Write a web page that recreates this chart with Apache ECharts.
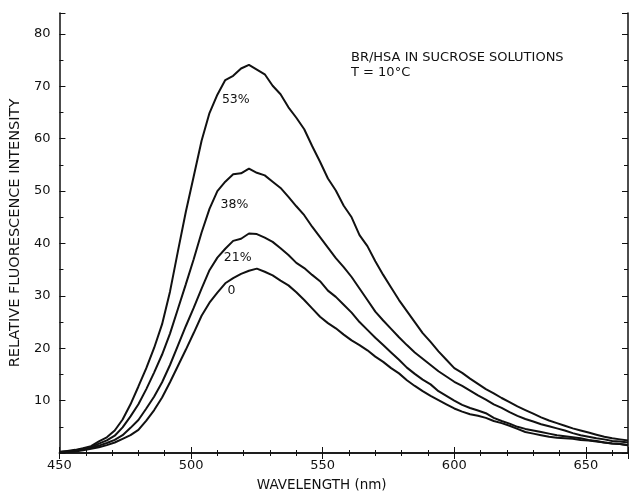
<!DOCTYPE html>
<html>
<head>
<meta charset="utf-8">
<script src="https://cdn.jsdelivr.net/npm/echarts@6/dist/echarts.min.js"></script>
<style>
  html, body { margin: 0; padding: 0; background: #fff; }
  #chart { width: 629px; height: 497px; }
</style>
</head>
<body>
<div id="chart"></div>
<script>
// wavelength grid (nm), shared by all four spectra
const wavelengths = [
  450, 453, 456, 459, 462, 465, 468, 471, 474, 477, 480, 483, 486, 489, 492, 495, 498,
  501, 504, 507, 510, 513, 516, 519, 522, 525, 528, 531, 534, 537, 540, 543, 546, 549,
  552, 555, 558, 561, 564, 567, 570, 573, 576, 579, 582, 585, 588, 591, 594, 597, 600,
  603, 606, 609, 612, 615, 618, 621, 624, 627, 630, 633, 636, 639, 642, 645, 648, 651,
  654, 657, 660, 663, 666
];

// relative fluorescence intensity
const sucrose53 = [
  0.2, 0.4, 0.6, 0.9, 1.3, 2.2, 3.0, 4.3, 6.4, 9.3, 12.7, 16.2, 20.1, 24.6, 30.8, 38.5, 46.0,
  52.8, 59.6, 64.9, 68.4, 71.2, 72.0, 73.4, 74.1, 73.2, 72.3, 70.1, 68.5, 66.0, 64.0, 61.8, 58.6, 55.6,
  52.4, 50.1, 47.2, 45.0, 41.6, 39.5, 36.6, 34.0, 31.6, 29.2, 27.1, 25.0, 22.9, 21.2, 19.4, 17.8, 16.2,
  15.3, 14.2, 13.2, 12.2, 11.4, 10.5, 9.7, 8.9, 8.2, 7.5, 6.8, 6.2, 5.7, 5.2, 4.7, 4.3, 3.9,
  3.5, 3.1, 2.8, 2.6, 2.4
];
const sucrose38 = [
  0.2, 0.3, 0.5, 0.8, 1.1, 1.8, 2.4, 3.3, 4.9, 7.0, 9.3, 12.2, 15.4, 18.8, 22.8, 27.5, 32.2,
  37.0, 42.1, 46.6, 50.0, 51.8, 53.2, 53.4, 54.3, 53.5, 53.0, 51.8, 50.6, 48.9, 47.1, 45.4, 43.2, 41.2,
  39.2, 37.2, 35.5, 33.6, 31.4, 29.2, 27.0, 25.3, 23.7, 22.1, 20.6, 19.2, 18.0, 16.8, 15.6, 14.6, 13.6,
  12.8, 11.9, 11.0, 10.2, 9.3, 8.6, 7.8, 7.1, 6.5, 6.0, 5.5, 5.1, 4.7, 4.3, 3.8, 3.4, 3.1,
  2.8, 2.6, 2.3, 2.2, 2.0
];
const sucrose21 = [
  0.2, 0.3, 0.4, 0.7, 1.0, 1.4, 1.9, 2.5, 3.4, 4.8, 6.3, 8.5, 10.8, 13.5, 16.8, 20.5, 24.2,
  27.7, 31.4, 34.9, 37.3, 39.0, 40.5, 40.9, 41.9, 41.8, 41.1, 40.3, 39.1, 37.8, 36.3, 35.3, 34.0, 32.8,
  31.0, 29.8, 28.3, 26.8, 25.0, 23.5, 22.0, 20.6, 19.2, 17.8, 16.3, 15.1, 14.0, 13.1, 11.8, 10.9, 10.0,
  9.2, 8.6, 8.1, 7.6, 6.7, 6.1, 5.6, 5.0, 4.6, 4.3, 4.0, 3.7, 3.4, 3.2, 3.0, 2.8, 2.5,
  2.3, 2.0, 1.8, 1.7, 1.5
];
const sucrose0 = [
  0.2, 0.2, 0.3, 0.5, 0.8, 1.1, 1.5, 2.0, 2.7, 3.4, 4.4, 6.2, 8.2, 10.6, 13.5, 16.6, 19.7,
  22.9, 26.2, 28.7, 30.6, 32.4, 33.4, 34.2, 34.8, 35.2, 34.6, 33.9, 32.9, 32.0, 30.7, 29.2, 27.6, 26.0,
  24.8, 23.8, 22.6, 21.5, 20.6, 19.6, 18.4, 17.4, 16.2, 15.2, 13.9, 12.8, 11.8, 10.9, 10.1, 9.3, 8.5,
  7.9, 7.4, 7.1, 6.7, 6.1, 5.7, 5.2, 4.6, 4.0, 3.7, 3.4, 3.1, 2.9, 2.8, 2.7, 2.5, 2.4,
  2.2, 2.0, 1.8, 1.7, 1.5
];

const curveNames = ['53%', '38%', '21%', '0'];
const curveValues = [sucrose53, sucrose38, sucrose21, sucrose0];
// where each curve's label sits [wavelength, intensity]
const labelCoords = [[517, 67.5], [516.5, 47.3], [517.7, 37.2], [515.4, 31]];

const FONT = 'DejaVu Sans';
const INK = '#111';

const chart = echarts.init(document.getElementById('chart'), null, { renderer: 'canvas' });

const xTicks = {
  axisLine: { show: true, lineStyle: { color: INK, width: 1.5 } },
  axisTick: { show: true, inside: true, length: 6, lineStyle: { color: INK, width: 1 } },
  minorTick: { show: true, splitNumber: 5, length: 3, lineStyle: { color: INK, width: 1 } },
  splitLine: { show: false },
  min: 450,
  max: 666,
  interval: 50
};
const yTicks = {
  axisLine: { show: true, lineStyle: { color: INK, width: 1.5 } },
  axisTick: { show: true, inside: true, length: 6, lineStyle: { color: INK, width: 1 } },
  minorTick: { show: true, splitNumber: 2, length: 4, lineStyle: { color: INK, width: 1 } },
  splitLine: { show: false },
  min: 0,
  max: 84,
  interval: 10
};

const series = curveNames.map((name, i) => ({
  name,
  type: 'line',
  data: wavelengths.map((w, j) => [w, curveValues[i][j]]),
  showSymbol: false,
  smooth: false,
  lineStyle: { color: INK, width: 2 },
  markPoint: {
    symbol: 'circle',
    symbolSize: 0,
    label: {
      show: true,
      position: 'inside',
      formatter: name,
      color: INK,
      fontFamily: FONT,
      fontSize: 12.5
    },
    data: [{ coord: labelCoords[i] }]
  }
}));

chart.setOption({
  animation: false,
  backgroundColor: '#fff',
  title: {
    text: 'BR/HSA IN SUCROSE SOLUTIONS\nT = 10°C',
    left: 346,
    top: 45,
    textStyle: { color: INK, fontFamily: FONT, fontSize: 13, fontWeight: 'normal', lineHeight: 15 }
  },
  grid: { left: 54, right: 1, top: 13, bottom: 41 },
  xAxis: [
    Object.assign({
      type: 'value',
      position: 'bottom',
      name: 'WAVELENGTH (nm)',
      nameLocation: 'middle',
      nameGap: 25,
      nameTextStyle: { color: INK, fontFamily: FONT, fontSize: 13.5, padding: [0, 44, 0, 0] },
      axisLabel: { color: INK, fontFamily: FONT, fontSize: 13, margin: 6, showMaxLabel: false }
    }, xTicks),
    Object.assign({
      type: 'value',
      position: 'top',
      axisLabel: { show: false }
    }, xTicks)
  ],
  yAxis: [
    Object.assign({
      type: 'value',
      position: 'left',
      name: 'RELATIVE FLUORESCENCE INTENSITY',
      nameLocation: 'middle',
      nameGap: 29,
      nameRotate: 90,
      nameTextStyle: { color: INK, fontFamily: FONT, fontSize: 14.5 },
      axisLabel: {
        color: INK, fontFamily: FONT, fontSize: 13, margin: 9, showMaxLabel: false,
        formatter: v => (v === 0 ? '' : String(v))
      }
    }, yTicks),
    Object.assign({
      type: 'value',
      position: 'right',
      axisLabel: { show: false }
    }, yTicks)
  ],
  series
});
</script>
</body>
</html>
